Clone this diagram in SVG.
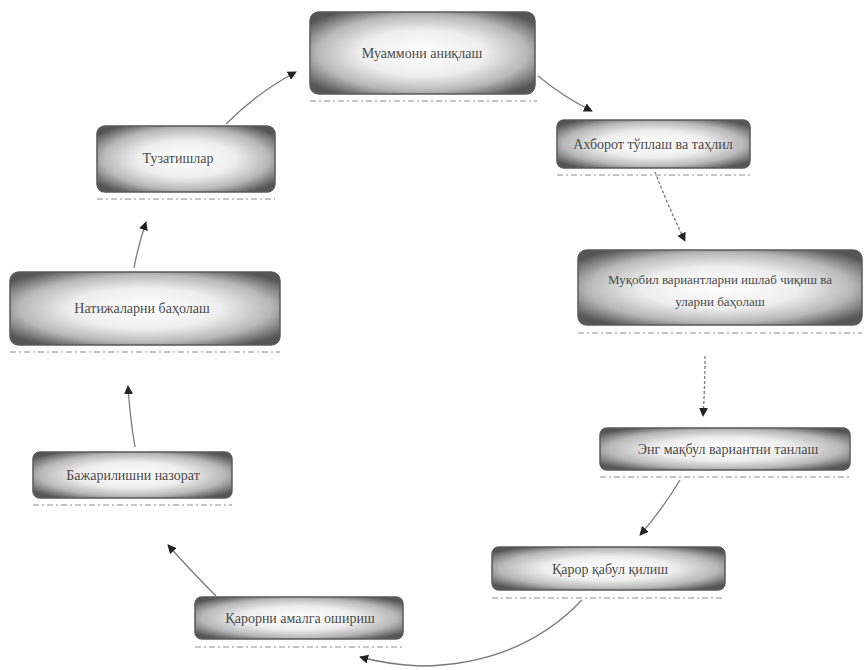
<svg xmlns="http://www.w3.org/2000/svg" width="864" height="670" viewBox="0 0 864 670">
<defs>
<radialGradient id="g" cx="0.5" cy="0.5" r="0.62">
<stop offset="0" stop-color="#ffffff"/>
<stop offset="0.45" stop-color="#eeeeee"/>
<stop offset="0.75" stop-color="#b8b8b8"/>
<stop offset="1" stop-color="#555555"/>
</radialGradient>
<marker id="ah" viewBox="0 0 10 10" refX="9" refY="5" markerWidth="9" markerHeight="9" orient="auto" markerUnits="userSpaceOnUse">
<path d="M0,0 L10,5 L0,10 Z" fill="#222"/>
</marker>
<style>
.box{fill:url(#g);stroke:#5a5a5a;stroke-width:1.5}
.t{font-family:"Liberation Serif","DejaVu Serif",serif;font-size:14px;fill:#4a4a4a;text-anchor:middle}
.sh{stroke:#c4c4c4;stroke-width:2;stroke-dasharray:6 3 2 3;fill:none}
.c{fill:none;stroke:#7a7a7a;stroke-width:1.3;marker-end:url(#ah)}
</style>
</defs>
<rect width="864" height="670" fill="#ffffff"/>
<g id="connectors">
<path class="c" d="M538,76 Q565,98 592,111"/>
<path class="c" d="M655,172 Q668,206 685,241" stroke-dasharray="3 2"/>
<path class="c" d="M705,356 Q705,386 703,416" stroke-dasharray="3 2"/>
<path class="c" d="M680,480 Q662,510 640,535"/>
<path class="c" d="M582,600 Q520,665 420,666 Q385,664 360,657"/>
<path class="c" d="M216,596 Q190,570 168,545"/>
<path class="c" d="M135,447 Q130,418 128,386"/>
<path class="c" d="M134,268 Q138,246 146,222"/>
<path class="c" d="M226,124 Q258,92 296,72"/>
</g>
<g id="n1">
<rect class="box" x="310" y="12" width="225" height="82" rx="9"/>
<line class="sh" x1="310" y1="101" x2="537" y2="101"/>
<text class="t" x="422" y="58">Муаммони аниқлаш</text>
</g>
<g id="n2">
<rect class="box" x="557" y="120" width="193" height="48" rx="7"/>
<line class="sh" x1="557" y1="175" x2="750" y2="175"/>
<text class="t" x="653" y="149">Ахборот тўплаш ва таҳлил</text>
</g>
<g id="n3">
<rect class="box" x="578" y="250" width="284" height="75" rx="9"/>
<line class="sh" x1="578" y1="333" x2="862" y2="333"/>
<text class="t" x="720" y="284" style="font-size:13px">Муқобил вариантларни ишлаб чиқиш ва</text>
<text class="t" x="720" y="306" style="font-size:13px">уларни баҳолаш</text>
</g>
<g id="n4">
<rect class="box" x="600" y="428" width="250" height="42" rx="7"/>
<line class="sh" x1="600" y1="477" x2="850" y2="477"/>
<text class="t" x="728" y="454">Энг мақбул вариантни танлаш</text>
</g>
<g id="n5">
<rect class="box" x="492" y="547" width="233" height="43" rx="7"/>
<line class="sh" x1="492" y1="598" x2="725" y2="598"/>
<text class="t" x="610" y="574">Қарор қабул қилиш</text>
</g>
<g id="n6">
<rect class="box" x="195" y="597" width="208" height="42" rx="7"/>
<line class="sh" x1="195" y1="647" x2="403" y2="647"/>
<text class="t" x="300" y="623">Қарорни амалга ошириш</text>
</g>
<g id="n7">
<rect class="box" x="33" y="452" width="199" height="46" rx="7"/>
<line class="sh" x1="33" y1="505" x2="232" y2="505"/>
<text class="t" x="133" y="480">Бажарилишни назорат</text>
</g>
<g id="n8">
<rect class="box" x="10" y="272" width="270" height="73" rx="9"/>
<line class="sh" x1="10" y1="352" x2="280" y2="352"/>
<text class="t" x="142" y="313">Натижаларни баҳолаш</text>
</g>
<g id="n9">
<rect class="box" x="97" y="126" width="178" height="66" rx="8"/>
<line class="sh" x1="97" y1="199" x2="275" y2="199"/>
<text class="t" x="178" y="163">Тузатишлар</text>
</g>
</svg>
